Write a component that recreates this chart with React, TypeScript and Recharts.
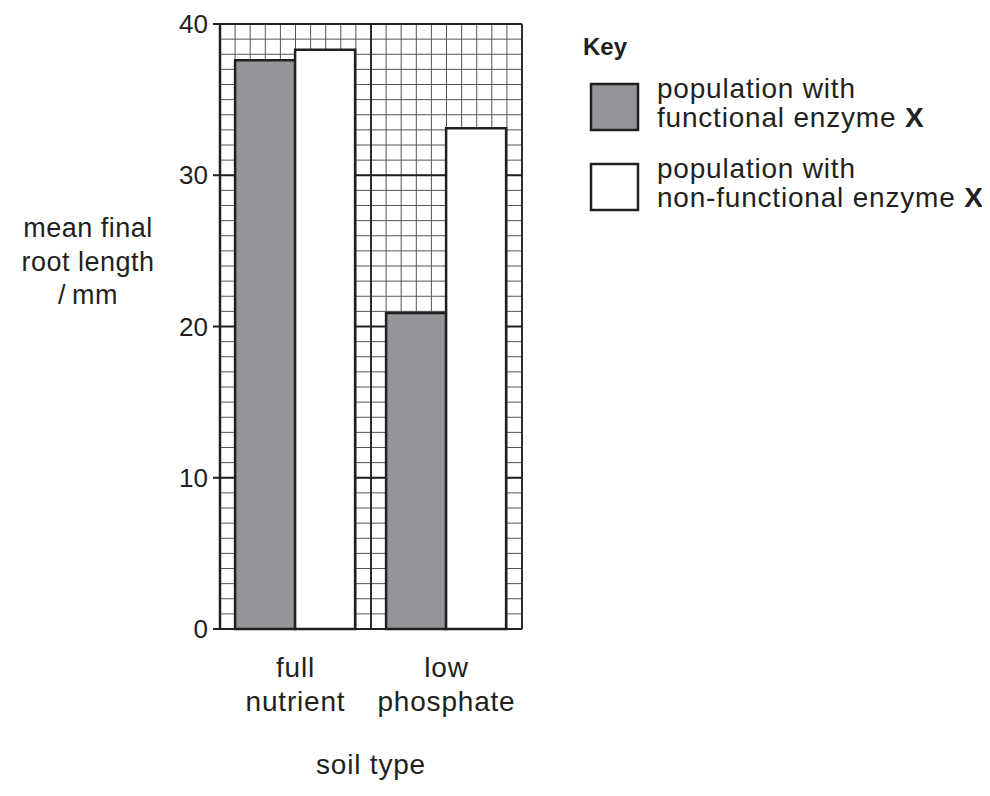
import React from "react";
import { BarChart, Bar, XAxis, YAxis, CartesianGrid, Legend } from "recharts";

const categories = ["full nutrient", "low phosphate"];
const categoryLines = [
  ["full", "nutrient"],
  ["low", "phosphate"],
];
const functionalX = [37.6, 20.9];
const nonFunctionalX = [38.3, 33.1];
const yTicks = [0, 10, 20, 30, 40];
const edgeTicks = [0, 1, 2];
const yLabelLines = ["mean final", "root length", "/\u2009mm"];
const keyItems = [
  { lines: ["population with", "functional enzyme"], fill: "#939598" },
  { lines: ["population with", "non-functional enzyme"], fill: "#ffffff" },
];

const INK = "#231f20";
const FONT = "'Liberation Sans', Arial, Helvetica, sans-serif";
const FS = 28;
const LS = 0.8;

const data = categories.map((category, i) => ({
  category,
  functional: functionalX[i],
  nonFunctional: nonFunctionalX[i],
}));

// grid: 1 mm squares up the y axis, 20 columns across
const minorH = ({ offset }: any) =>
  Array.from({ length: 41 }, (_, i) => offset.top + (i * offset.height) / 40);
const minorV = ({ offset }: any) =>
  Array.from({ length: 21 }, (_, i) => offset.left + (i * offset.width) / 20);
const majorH = ({ offset }: any) =>
  Array.from({ length: 5 }, (_, i) => offset.top + (i * offset.height) / 4);
const majorV = ({ offset }: any) =>
  Array.from({ length: 3 }, (_, i) => offset.left + (i * offset.width) / 2);

function CategoryTick(props: any) {
  const { x, y, index } = props;
  const lines = categoryLines[index] || [];
  return (
    <g>
      {lines.map((t, i) => (
        <text
          key={t}
          x={x}
          y={y + 40 + i * 34}
          textAnchor="middle"
          fontSize={FS}
          fontFamily={FONT}
          letterSpacing={LS}
          fill={INK}
        >
          {t}
        </text>
      ))}
    </g>
  );
}

function YLabel(props: any) {
  const { viewBox } = props;
  const cx = viewBox.x - 72;
  return (
    <g>
      {yLabelLines.map((t, i) => (
        <text
          key={t}
          x={cx}
          y={229 + i * 33.5}
          textAnchor="middle"
          fontSize={27}
          fontFamily={FONT}
          letterSpacing={0.5}
          fill={INK}
        >
          {t}
        </text>
      ))}
    </g>
  );
}

function XLabel(props: any) {
  const { viewBox } = props;
  return (
    <text
      x={viewBox.x + viewBox.width / 2}
      y={766}
      textAnchor="middle"
      fontSize={FS}
      fontFamily={FONT}
      letterSpacing={LS}
      fill={INK}
    >
      soil type
    </text>
  );
}

function KeyBox() {
  return (
    <svg width={420} height={200} style={{ overflow: "visible" }}>
      <text x={0} y={25} fontSize={24} fontWeight="bold" fontFamily={FONT} fill={INK}>
        Key
      </text>
      {keyItems.map((item, k) => (
        <g key={k} transform={`translate(0, ${k * 80})`}>
          <rect x={8} y={54} width={47} height={46} fill={item.fill} stroke={INK} strokeWidth={2.5} />
          <text x={74} y={68} fontSize={FS} fontFamily={FONT} letterSpacing={LS} fill={INK}>
            {item.lines[0]}
          </text>
          <text x={74} y={97} fontSize={FS} fontFamily={FONT} letterSpacing={LS} fill={INK}>
            {item.lines[1]} <tspan fontWeight="bold" letterSpacing={0}>X</tspan>
          </text>
        </g>
      ))}
    </svg>
  );
}

export default function App() {
  return (
    <div style={{ width: 974, height: 780 }}>
      <BarChart
        width={974}
        height={780}
        data={data}
        margin={{ top: 16, right: 460, left: 152, bottom: 99 }}
        barCategoryGap="10%"
        barGap={0}
      >
        <CartesianGrid
          xAxisId="cat"
          stroke="#555"
          strokeWidth={1}
          horizontalCoordinatesGenerator={minorH}
          verticalCoordinatesGenerator={minorV}
        />
        <CartesianGrid
          xAxisId="cat"
          stroke={INK}
          strokeWidth={1.8}
          horizontalCoordinatesGenerator={majorH}
          verticalCoordinatesGenerator={majorV}
        />
        <XAxis
          xAxisId="edges"
          type="number"
          domain={[0, 2]}
          ticks={edgeTicks}
          height={0}
          tickSize={7}
          tickFormatter={() => ""}
          stroke={INK}
          axisLine={{ stroke: INK, strokeWidth: 2.5 }}
          tickLine={{ stroke: INK, strokeWidth: 2 }}
        />
        <XAxis
          xAxisId="cat"
          dataKey="category"
          height={60}
          axisLine={false}
          tickLine={false}
          tick={<CategoryTick />}
          label={{ content: <XLabel /> }}
        />
        <YAxis
          domain={[0, 40]}
          ticks={yTicks}
          width={60}
          tickSize={7}
          tickMargin={5}
          axisLine={{ stroke: INK, strokeWidth: 2.5 }}
          tickLine={{ stroke: INK, strokeWidth: 2 }}
          tick={{ fontSize: 26, fontFamily: FONT, fill: INK }}
          label={{ content: <YLabel /> }}
        />
        <Bar
          xAxisId="cat"
          dataKey="functional"
          fill="#939598"
          stroke={INK}
          strokeWidth={2.5}
          isAnimationActive={false}
        />
        <Bar
          xAxisId="cat"
          dataKey="nonFunctional"
          fill="#ffffff"
          stroke={INK}
          strokeWidth={2.5}
          isAnimationActive={false}
        />
        <Legend
          layout="vertical"
          align="center"
          verticalAlign="middle"
          wrapperStyle={{ left: 575, top: 22, width: 420 }}
          content={<KeyBox />}
        />
      </BarChart>
    </div>
  );
}
